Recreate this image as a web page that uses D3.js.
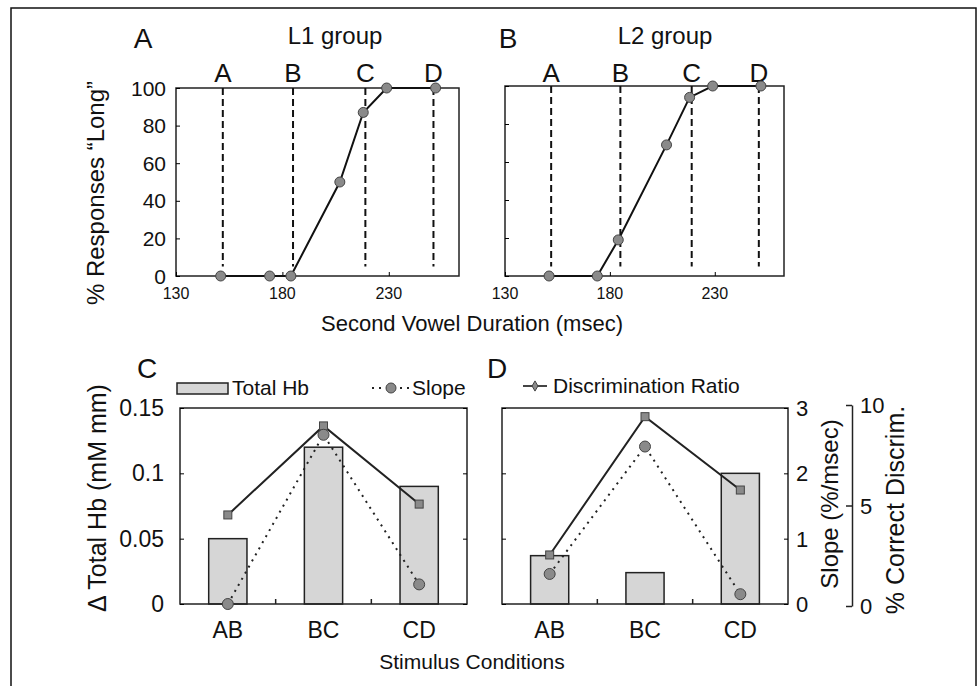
<!DOCTYPE html>
<html>
<head>
<meta charset="utf-8">
<script src="https://cdn.jsdelivr.net/npm/d3@7"></script>
<style>
  body { margin: 0; background: #fff; }
  svg { font-family: "Liberation Sans", Arial, sans-serif; }
</style>
</head>
<body>
<script>
// identification curves (top row)
var durations = [151, 174, 184, 207, 218, 229, 252];
var longL1 = [0, 0, 0, 50, 87, 100, 100];
var longL2 = [0, 0, 19, 69, 94, 100, 100];
var stimLetters = ["A", "B", "C", "D"];
var stimDur = [152, 185, 219, 251];
var durTicks = [130, 180, 230];
var pctTicks = [0, 20, 40, 60, 80, 100];

// bar panels (bottom row)
var conditions = ["AB", "BC", "CD"];
var hbL1 = [0.05, 0.12, 0.09];
var slopeL1 = [0, 2.59, 0.3];
var discL1 = [4.53, 8.96, 5.07];
var hbL2 = [0.037, 0.024, 0.1];
var slopeL2 = [0.46, 2.41, 0.15];
var discL2 = [2.54, 9.42, 5.77];
var hbTicks = [0, 0.05, 0.1, 0.15];
var slopeTicks = [0, 1, 2, 3];
var discTicks = [0, 5, 10];

var svg = d3.select("body").append("svg").attr("width", 980).attr("height", 686);

svg.append("rect")
  .attr("x", 11).attr("y", 8).attr("width", 965).attr("height", 690)
  .attr("fill", "none").attr("stroke", "#111").attr("stroke-width", 1.5);

function txt(x, y, s, size, anchor) {
  return svg.append("text")
    .attr("x", x).attr("y", y)
    .attr("font-size", size)
    .attr("text-anchor", anchor || "middle")
    .attr("fill", "#111")
    .text(s);
}

function vtxt(x, y, s, size) {
  return svg.append("text")
    .attr("transform", "translate(" + x + "," + y + ") rotate(-90)")
    .attr("text-anchor", "middle").attr("font-size", size).attr("fill", "#111")
    .text(s);
}

function idPanel(x0, x1, y0, y1, vals, showLabels) {
  var x = d3.scaleLinear().domain([130, 263]).range([x0, x1]);
  var y = d3.scaleLinear().domain([0, 100]).range([y1, y0]);

  svg.append("rect")
    .attr("x", x0).attr("y", y0).attr("width", x1 - x0).attr("height", y1 - y0)
    .attr("fill", "none").attr("stroke", "#222").attr("stroke-width", 1.5);

  // inward ticks
  var ya = d3.axisRight(y).tickValues(pctTicks).tickSize(4).tickFormat("");
  var g = svg.append("g").attr("transform", "translate(" + x0 + ",0)").call(ya);
  g.select(".domain").remove();
  var xa = d3.axisTop(x).tickValues(durTicks).tickSize(4).tickFormat("");
  var gx = svg.append("g").attr("transform", "translate(0," + y1 + ")").call(xa);
  gx.select(".domain").remove();

  durTicks.forEach(function (t) {
    txt(x(t), 299, t, 16);
  });
  if (showLabels) {
    pctTicks.forEach(function (t) {
      txt(x0 - 10, y(t) + 7.5, t, 21, "end");
    });
  }

  stimDur.forEach(function (d, i) {
    svg.append("line")
      .attr("x1", x(d)).attr("x2", x(d))
      .attr("y1", y(100)).attr("y2", y(5))
      .attr("stroke", "#111").attr("stroke-width", 2)
      .attr("stroke-dasharray", "7,4");
    txt(x(d), 82, stimLetters[i], 26);
  });

  var pts = durations.map(function (d, i) { return [d, vals[i]]; });
  svg.append("path")
    .datum(pts)
    .attr("fill", "none").attr("stroke", "#111").attr("stroke-width", 2)
    .attr("d", d3.line().x(function (d) { return x(d[0]); }).y(function (d) { return y(d[1]); }));
  svg.selectAll(null).data(pts).enter().append("circle")
    .attr("cx", function (d) { return x(d[0]); })
    .attr("cy", function (d) { return y(d[1]); })
    .attr("r", 5)
    .attr("fill", "#8a8a8a").attr("stroke", "#444").attr("stroke-width", 1);
}

idPanel(176, 459, 88, 276, longL1, true);
idPanel(505, 784, 86, 276, longL2, false);

txt(143, 48, "A", 28);
txt(335, 44, "L1 group", 24);
txt(508, 48, "B", 28);
txt(665, 44, "L2 group", 24);
txt(472, 331, "Second Vowel Duration (msec)", 22);
vtxt(104, 193, "% Responses \u201CLong\u201D", 24);

// bottom row
var yHb = d3.scaleLinear().domain([0, 0.15]).range([604, 408]);
var ySlope = d3.scaleLinear().domain([0, 3]).range([604, 408]);
var yDisc = d3.scaleLinear().domain([0, 10]).range([606, 405]);

function barPanel(x0, x1, hb, slope, disc, showLeft, showRight) {
  var x = d3.scaleBand().domain(conditions).range([x0, x1]);
  var bw = x.bandwidth() * 0.4;
  var y0 = 408, y1 = 604;

  svg.selectAll(null).data(hb).enter().append("rect")
    .attr("x", function (d, i) { return x(conditions[i]) + x.bandwidth() / 2 - bw / 2; })
    .attr("y", function (d) { return yHb(d); })
    .attr("width", bw)
    .attr("height", function (d) { return y1 - yHb(d); })
    .attr("fill", "#d6d6d6").attr("stroke", "#222").attr("stroke-width", 1.5);

  svg.append("rect")
    .attr("x", x0).attr("y", y0).attr("width", x1 - x0).attr("height", y1 - y0)
    .attr("fill", "none").attr("stroke", "#222").attr("stroke-width", 1.5);

  var gl = svg.append("g").attr("transform", "translate(" + x0 + ",0)")
    .call(d3.axisRight(yHb).tickValues(hbTicks).tickSize(4).tickFormat(""));
  gl.select(".domain").remove();
  var gr = svg.append("g").attr("transform", "translate(" + x1 + ",0)")
    .call(d3.axisLeft(ySlope).tickValues(slopeTicks).tickSize(4).tickFormat(""));
  gr.select(".domain").remove();
  // inward ticks between categories
  [1, 2].forEach(function (i) {
    var bx = x(conditions[i]);
    svg.append("line").attr("x1", bx).attr("x2", bx).attr("y1", y1).attr("y2", y1 - 5)
      .attr("stroke", "#222").attr("stroke-width", 1.5);
  });

  conditions.forEach(function (c) {
    txt(x(c) + x.bandwidth() / 2, 638, c, 23);
  });
  if (showLeft) {
    hbTicks.forEach(function (t) {
      txt(x0 - 16, yHb(t) + 8, t, 23, "end");
    });
  }
  if (showRight) {
    slopeTicks.forEach(function (t) {
      txt(x1 + 8, ySlope(t) + 8, t, 22, "start");
    });
  }

  var cx = function (i) { return x(conditions[i]) + x.bandwidth() / 2; };

  // discrimination ratio: solid with squares
  svg.append("path").datum(disc)
    .attr("fill", "none").attr("stroke", "#222").attr("stroke-width", 2)
    .attr("d", d3.line().x(function (d, i) { return cx(i); }).y(function (d) { return yDisc(d); }));
  svg.selectAll(null).data(disc).enter().append("rect")
    .attr("x", function (d, i) { return cx(i) - 4; })
    .attr("y", function (d) { return yDisc(d) - 4; })
    .attr("width", 8).attr("height", 8)
    .attr("fill", "#8a8a8a").attr("stroke", "#444").attr("stroke-width", 1);

  // slope: dotted with circles
  svg.append("path").datum(slope)
    .attr("fill", "none").attr("stroke", "#222").attr("stroke-width", 2)
    .attr("stroke-dasharray", "2,5")
    .attr("d", d3.line().x(function (d, i) { return cx(i); }).y(function (d) { return ySlope(d); }));
  svg.selectAll(null).data(slope).enter().append("circle")
    .attr("cx", function (d, i) { return cx(i); })
    .attr("cy", function (d) { return ySlope(d); })
    .attr("r", 5.5)
    .attr("fill", "#8a8a8a").attr("stroke", "#444").attr("stroke-width", 1);
}

barPanel(180, 467, hbL1, slopeL1, discL1, true, false);
barPanel(502, 788, hbL2, slopeL2, discL2, false, true);

// % correct discrim. axis (bracket)
var gd = svg.append("g").attr("transform", "translate(852,0)")
  .call(d3.axisLeft(yDisc).tickValues(discTicks).tickSize(6).tickSizeOuter(0).tickFormat(""));
gd.selectAll("path, line").attr("stroke", "#222").attr("stroke-width", 1.5);
discTicks.forEach(function (t) {
  txt(860, yDisc(t) + 8, t, 22, "start");
});

txt(147, 378, "C", 28);
txt(497, 378, "D", 28);
txt(472, 669, "Stimulus Conditions", 21);
vtxt(106, 498, "\u0394 Total Hb (mM mm)", 25);
vtxt(838, 504, "Slope (%/msec)", 24);
vtxt(904, 510, "% Correct Discrim.", 25);

// legends
svg.append("rect").attr("x", 177).attr("y", 383).attr("width", 51).attr("height", 11)
  .attr("fill", "#d6d6d6").attr("stroke", "#222").attr("stroke-width", 1.5);
txt(232, 395, "Total Hb", 21, "start");
svg.append("line").attr("x1", 372).attr("x2", 410).attr("y1", 388).attr("y2", 388)
  .attr("stroke", "#222").attr("stroke-width", 2).attr("stroke-dasharray", "2,5");
svg.append("circle").attr("cx", 391).attr("cy", 388).attr("r", 5)
  .attr("fill", "#8a8a8a").attr("stroke", "#444");
txt(412, 395, "Slope", 21, "start");

svg.append("line").attr("x1", 523).attr("x2", 547).attr("y1", 386).attr("y2", 386)
  .attr("stroke", "#444").attr("stroke-width", 2);
svg.append("path")
  .attr("d", d3.symbol().type(d3.symbolDiamond).size(30)())
  .attr("transform", "translate(535,386)")
  .attr("fill", "#8a8a8a").attr("stroke", "#444");
txt(553, 393, "Discrimination Ratio", 21, "start");
</script>
</body>
</html>
